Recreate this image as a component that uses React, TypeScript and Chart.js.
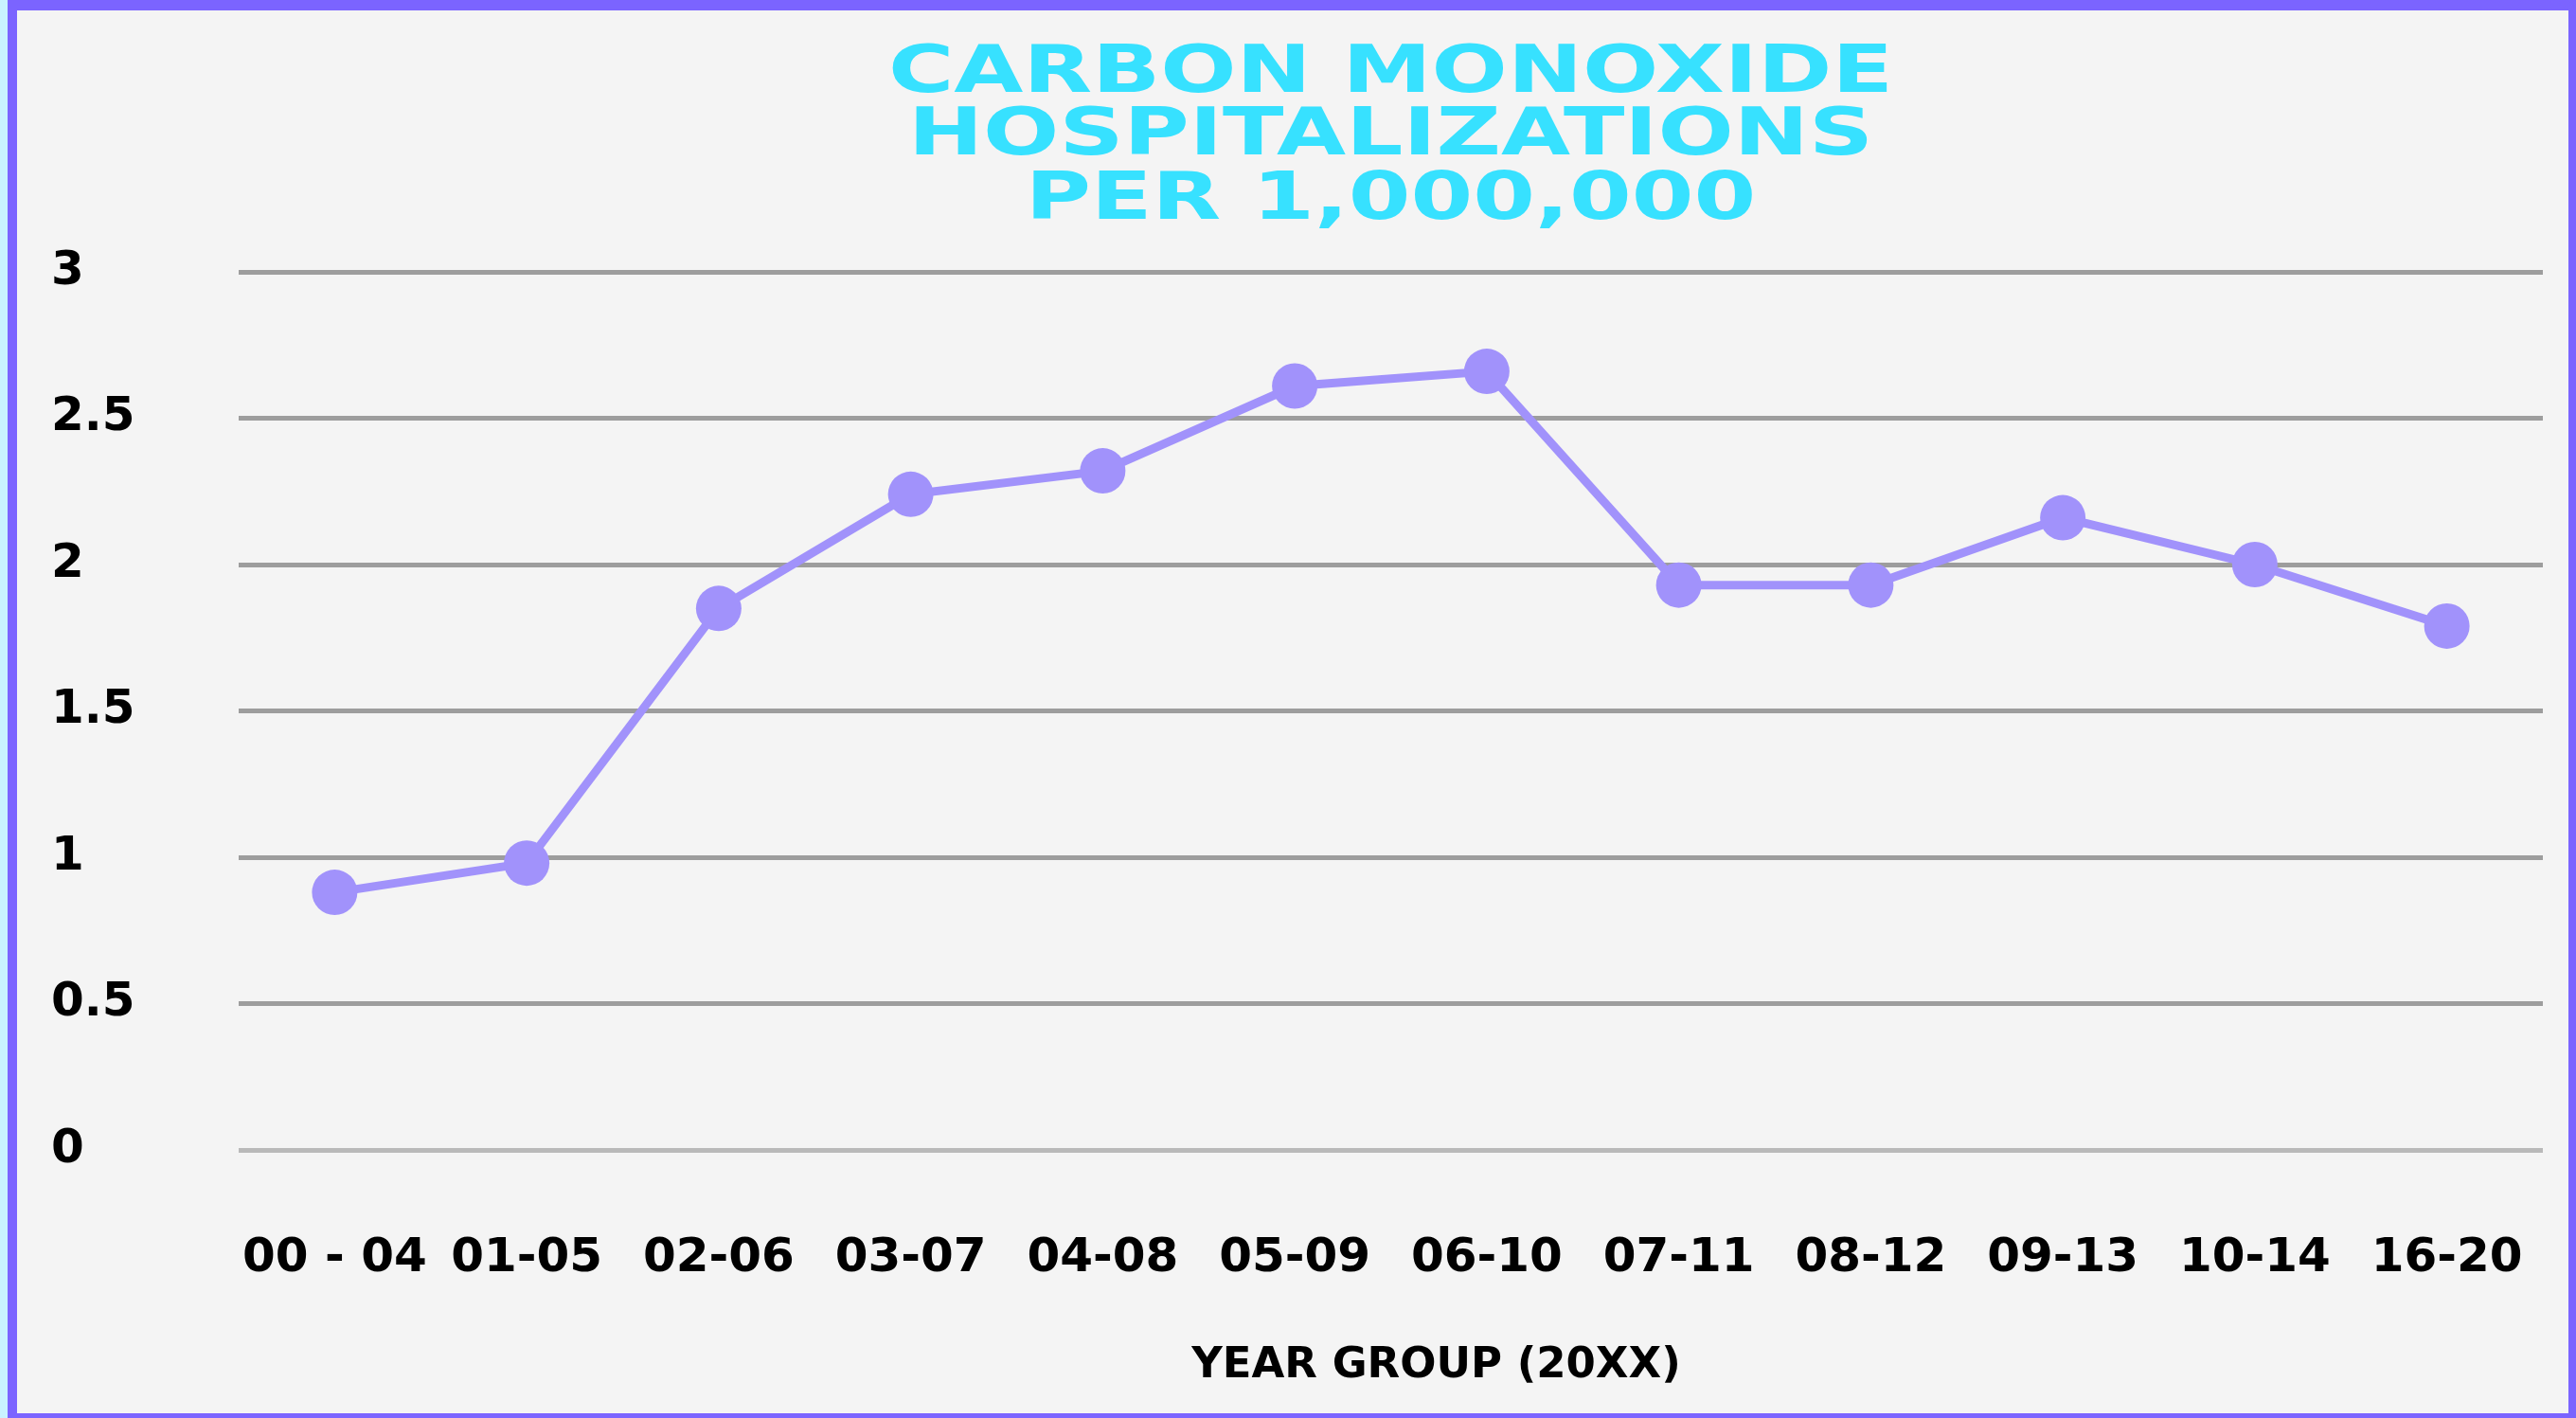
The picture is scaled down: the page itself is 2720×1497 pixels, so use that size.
import React, { useEffect, useRef } from 'react';
import { Chart, registerables } from 'chart.js';

Chart.register(...registerables);

const categories = ['00 - 04', '01-05', '02-06', '03-07', '04-08', '05-09', '06-10', '07-11', '08-12', '09-13', '10-14', '16-20'];
const hospitalizations = [0.88, 0.98, 1.85, 2.24, 2.32, 2.61, 2.66, 1.93, 1.93, 2.16, 2.0, 1.79];
const yMin = 0;
const yMax = 3;
const yStep = 0.5;
const titleLines = ['CARBON MONOXIDE', 'HOSPITALIZATIONS', 'PER 1,000,000'];
const xAxisTitle = 'YEAR GROUP (20XX)';

const W = 2720;
const H = 1497;

const framePlugin = {
  id: 'frame',
  beforeDraw(chart: any) {
    const { ctx, width, height } = chart;
    ctx.save();
    ctx.fillStyle = '#f4f4f4';
    ctx.fillRect(0, 0, width, height);
    ctx.fillStyle = '#c9f3ff';
    ctx.fillRect(0, 0, 8, height);
    ctx.fillStyle = '#7b64ff';
    ctx.fillRect(8, 0, 10, height);
    ctx.fillRect(8, 0, width - 8, 11);
    ctx.fillRect(width - 8, 0, 8, height);
    ctx.fillRect(8, height - 5, width - 8, 5);
    ctx.restore();
  },
  afterDraw(chart: any) {
    const { ctx, chartArea } = chart;
    const cx = (chartArea.left + chartArea.right) / 2;
    const baselines = [97, 163, 231];
    ctx.save();
    ctx.font = 'bold 70px "DejaVu Sans"';
    ctx.fillStyle = '#37e1ff';
    ctx.textAlign = 'center';
    ctx.textBaseline = 'alphabetic';
    titleLines.forEach((line, i) => {
      ctx.save();
      ctx.translate(cx, baselines[i]);
      ctx.scale(1.35, 1);
      ctx.fillText(line, 0, 0);
      ctx.restore();
    });
    // x-axis title
    ctx.font = 'bold 45px "DejaVu Sans"';
    ctx.fillStyle = '#000';
    ctx.textBaseline = 'middle';
    ctx.fillText(xAxisTitle, cx + 48, 1442);
    ctx.restore();
  },
};

export default function App() {
  const ref = useRef<HTMLCanvasElement | null>(null);

  useEffect(() => {
    if (!ref.current) return;
    const chart = new Chart(ref.current, {
      type: 'line',
      data: {
        labels: categories,
        datasets: [
          {
            label: 'Hospitalizations per 1,000,000',
            data: hospitalizations,
            borderColor: '#a192fb',
            backgroundColor: '#a192fb',
            borderWidth: 9,
            pointRadius: 24,
            pointHoverRadius: 24,
            pointBackgroundColor: '#a192fb',
            pointBorderColor: '#a192fb',
            pointBorderWidth: 0,
            tension: 0,
          },
        ],
      },
      options: {
        responsive: false,
        animation: false,
        devicePixelRatio: 1,
        layout: { padding: { top: 287, left: 54, right: 35, bottom: 20 } },
        plugins: {
          legend: { display: false },
          title: { display: false },
          tooltip: { enabled: false },
        },
        scales: {
          x: {
            type: 'category',
            offset: true,
            grid: {
              display: true,
              drawOnChartArea: false,
              drawTicks: true,
              tickLength: 82,
              color: 'rgba(0,0,0,0)',
              tickColor: 'rgba(0,0,0,0)',
            },
            border: { display: false },
            ticks: {
              color: '#000',
              padding: 3,
              maxRotation: 0,
              autoSkip: false,
              font: { family: 'DejaVu Sans', weight: 'bold', size: 50 },
            },
            title: { display: false },
            afterFit(scale: any) {
              scale.height = 263;
            },
          },
          y: {
            min: yMin,
            max: yMax,
            grid: {
              drawTicks: false,
              lineWidth: 5,
              color: (c: any) => (c.tick && c.tick.value === 0 ? '#b9b9b9' : '#9d9d9d'),
            },
            border: { display: false },
            ticks: {
              stepSize: yStep,
              color: '#000',
              crossAlign: 'far',
              font: { family: 'DejaVu Sans', weight: 'bold', size: 50 },
              callback: (v: any) => String(Number(v)),
            },
            afterFit(scale: any) {
              scale.width = 198;
            },
          },
        },
      },
      plugins: [framePlugin],
    } as any);
    return () => chart.destroy();
  }, []);

  return (
    <div style={{ position: 'fixed', left: 0, top: 0, width: W, height: H }}>
      <canvas ref={ref} width={W} height={H} style={{ display: 'block', width: W, height: H }} />
    </div>
  );
}
